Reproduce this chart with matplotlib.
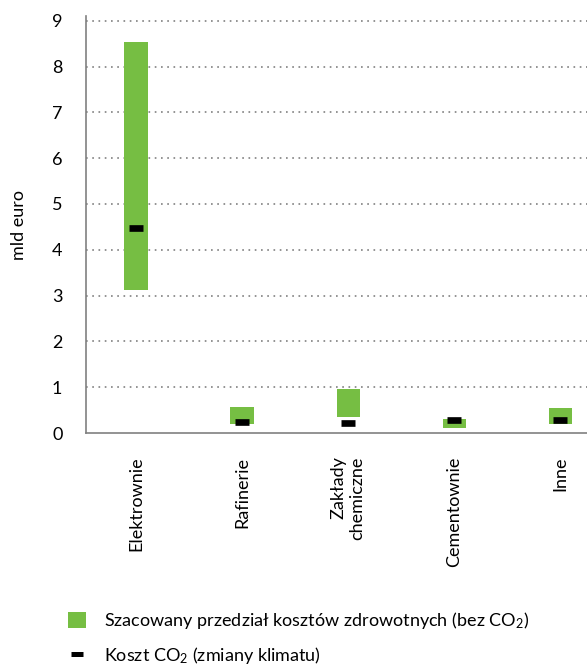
import numpy as np
import matplotlib.pyplot as plt
from matplotlib.patches import Patch
from matplotlib.lines import Line2D

plt.rcParams['font.family'] = ['Lato', 'DejaVu Sans']
plt.rcParams['mathtext.default'] = 'regular'

categories = ['Elektrownie', 'Rafinerie', 'Zakłady\nchemiczne', 'Cementownie', 'Inne']
health_low = [3.13, 0.20, 0.35, 0.11, 0.20]
health_high = [8.53, 0.57, 0.96, 0.30, 0.54]
co2_cost = [4.47, 0.25, 0.21, 0.28, 0.28]

green = '#76BE43'
grey = '#808080'
fs = 13

fig = plt.figure(figsize=(5.87, 6.68), dpi=100)
ax = fig.add_axes([86/587, 1-433/668, 1-86/587, (433-16.2)/668])

x = np.arange(len(categories))
low = np.array(health_low)
high = np.array(health_high)
ax.bar(x, high-low, bottom=low, width=0.22, color=green, zorder=2)
ax.plot(x, co2_cost, ls='none', marker='_', ms=9.4, mew=4.8, color='black', zorder=3)

ax.set_xlim(-0.47, 4.25)
ax.set_ylim(0, 9.1)
ax.set_yticks(range(10))
ax.set_yticklabels([str(i) for i in range(10)], fontsize=fs)
ax.set_xticks(x)
ax.set_xticklabels(categories, rotation=90, fontsize=fs, ma='right')
ax.tick_params(axis='both', length=0)
ax.tick_params(axis='y', pad=17)
ax.tick_params(axis='x', pad=17)
ax.set_ylabel('mld euro', fontsize=fs, labelpad=18)

for yv in range(1, 10):
    ax.axhline(yv, color=grey, lw=1.2, ls=(0, (1, 2.75)), zorder=1)

for s in ['top', 'right']:
    ax.spines[s].set_visible(False)
for s in ['left', 'bottom']:
    ax.spines[s].set_color(grey)
    ax.spines[s].set_linewidth(1.2)

handles = [Patch(facecolor=green, edgecolor='none'),
           Line2D([], [], ls='none', marker='_', ms=8, mew=3.6, color='black')]
labels = ['Szacowany przedział kosztów zdrowotnych (bez CO$_2$)',
          'Koszt CO$_2$ (zmiany klimatu)']
fig.legend(handles, labels, loc='upper left', bbox_to_anchor=(68/587, 1-610/668),
           frameon=False, fontsize=fs, handlelength=1.0, handleheight=1.0,
           handletextpad=1.0, labelspacing=0.8, borderpad=0, borderaxespad=0)

plt.savefig('out.png', dpi=100)
